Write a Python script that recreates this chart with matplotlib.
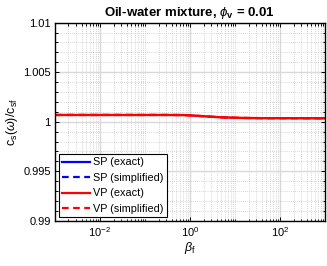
import numpy as np
import matplotlib
matplotlib.use("Agg")
import matplotlib.pyplot as plt
from matplotlib.ticker import MultipleLocator, FixedLocator, NullFormatter

plt.rcParams['font.family'] = ['Liberation Sans', 'DejaVu Sans']
plt.rcParams['mathtext.fontset'] = 'custom'
plt.rcParams['mathtext.rm'] = 'Liberation Sans'
plt.rcParams['mathtext.it'] = 'Liberation Sans:italic'
plt.rcParams['mathtext.bf'] = 'Liberation Sans:bold'

# data
beta_f = [1e-3, 1e-2, 1e-1, 0.3, 0.7, 1.0, 2.0, 3.0, 5.0, 10.0, 20.0, 50.0, 100.0, 1000.0]
sp_exact = [1.00068, 1.00068, 1.00068, 1.00068, 1.00067, 1.00064, 1.00055, 1.0005, 1.00044,
            1.0004, 1.00037, 1.00035, 1.00035, 1.00034]
sp_simpl = sp_exact
vp_exact = sp_exact
vp_simpl = sp_exact

fig = plt.figure(figsize=(3.27, 2.66), dpi=100)
ax = fig.add_axes([0.168, 0.170, 0.826, 0.745])

ax.semilogx(beta_f, sp_exact, color='#0000ff', lw=1.1, label='SP (exact)')
ax.semilogx(beta_f, sp_simpl, color='#0000ff', lw=1.1, ls=(0, (3, 2)), label='SP (simplified)')
ax.semilogx(beta_f, vp_exact, color='#ff0000', lw=1.7, label='VP (exact)')
ax.semilogx(beta_f, vp_simpl, color='#ff0000', lw=1.7, ls=(0, (3, 2)), label='VP (simplified)')

ax.set_xlim(1e-3, 1e3)
ax.set_ylim(0.99, 1.01)
ax.xaxis.set_major_locator(FixedLocator([1e-2, 1e0, 1e2]))
minors = [m * 10.0**e for e in range(-3, 3) for m in range(1, 10)] + [1e3]
minors = [v for v in minors if v not in (1e-2, 1e0, 1e2)]
ax.xaxis.set_minor_locator(FixedLocator(minors))
ax.xaxis.set_minor_formatter(NullFormatter())
ax.yaxis.set_major_locator(MultipleLocator(0.005))
ax.yaxis.set_minor_locator(MultipleLocator(0.001))
ax.yaxis.set_major_formatter(plt.FuncFormatter(lambda v, p: ('%.3f' % v).rstrip('0').rstrip('.')))

ax.grid(True, which='major', color='#d9d9d9', lw=1.0, ls='-')
ax.grid(True, which='minor', color='#c8c8c8', lw=0.6, ls=(0, (1, 1.5)))
ax.set_axisbelow(True)

ax.tick_params(which='both', direction='in', top=True, right=True, labelsize=8, width=0.7)
ax.tick_params(which='major', length=3, pad=3)
ax.tick_params(which='minor', length=1.8)
for s in ax.spines.values():
    s.set_linewidth(1.0)

ax.set_title(r'Oil-water mixture, $\phi_\mathbf{v}$ = 0.01', fontsize=9.5, fontweight='bold', pad=5)
ax.set_xlabel(r'$\beta_\mathrm{f}$', fontsize=9, labelpad=1)
ax.set_ylabel(r'c$_\mathrm{s}(\omega)$/c$_\mathrm{sf}$', fontsize=9, labelpad=2)

leg = ax.legend(loc='lower left', fontsize=7.8, frameon=True, fancybox=False, edgecolor='black',
                framealpha=1, handlelength=2.6, borderpad=0.3, labelspacing=0.5,
                handletextpad=0.3, borderaxespad=0.35)
leg.get_frame().set_linewidth(0.8)
for ln in leg.get_lines():
    ln.set_linewidth(1.6)

fig.savefig('out.png', dpi=100)
